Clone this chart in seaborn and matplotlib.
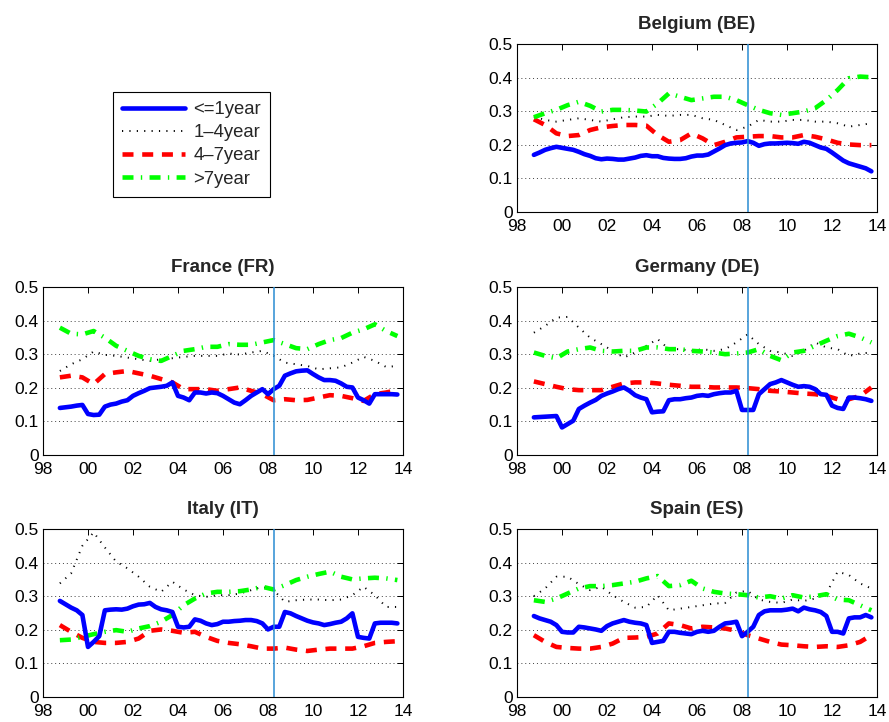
import numpy as np
import pandas as pd
import matplotlib
matplotlib.use("Agg")
import matplotlib.pyplot as plt
import seaborn as sns
from matplotlib.lines import Line2D

sns.set_style("white")
plt.rcParams['font.family'] = ['Liberation Sans', 'DejaVu Sans']

# ---------------- data ----------------
series_names = ["<=1year", "1\u20134year", "4\u20137year", ">7year"]
countries = ["Belgium (BE)", "France (FR)", "Germany (DE)", "Italy (IT)", "Spain (ES)"]
xtick_years = [1998, 2000, 2002, 2004, 2006, 2008, 2010, 2012, 2014]
xtick_labels = ["98", "00", "02", "04", "06", "08", "10", "12", "14"]
ytick_vals = [0, 0.1, 0.2, 0.3, 0.4, 0.5]
ytick_labels = ["0", "0.1", "0.2", "0.3", "0.4", "0.5"]
crisis_date = 2008.25

# quarterly dates (1998Q4 .. 2013Q4) and half-year dates
qtr_dates = 1998.75 + 0.25 * np.arange(61)
half_dates = 1998.75 + 0.5 * np.arange(31)

be_short = [.170,.177,.185,.190,.194,.191,.188,.185,.179,.172,
            .167,.160,.157,.159,.158,.156,.156,.159,.162,.167,
            .169,.166,.166,.161,.159,.158,.158,.160,.165,.168,
            .168,.171,.180,.189,.199,.204,.206,.207,.211,.206,
            .197,.202,.204,.204,.205,.206,.205,.203,.209,.206,
            .199,.192,.188,.177,.165,.153,.145,.140,.135,.130,.121]
be_1_4 = [.284,.274,.269,.274,.279,.274,.269,.276,.282,.284,.284,.289,.286,.289,.289,.279,
          .274,.259,.244,.254,.274,.269,.269,.274,.274,.269,.269,.264,.254,.259,.264]
be_4_7 = [.276,.259,.234,.226,.229,.244,.252,.256,.259,.259,.257,.229,.209,.214,.234,.219,
          .199,.209,.222,.224,.226,.226,.222,.222,.229,.224,.216,.206,.201,.199,.199]
be_long = [.282,.294,.304,.318,.328,.316,.299,.304,.304,.302,.299,.323,.353,.343,.333,.338,
           .343,.343,.333,.318,.304,.294,.289,.294,.299,.309,.333,.363,.398,.403,.401]

fr_short = [.140,.142,.144,.147,.149,.122,.119,.120,.144,.150,
            .153,.159,.163,.176,.184,.191,.199,.201,.203,.206,
            .216,.176,.171,.163,.186,.186,.183,.186,.184,.176,
            .166,.156,.151,.163,.176,.186,.196,.181,.196,.206,
            .236,.243,.249,.251,.252,.241,.231,.223,.223,.221,
            .213,.203,.201,.171,.163,.153,.181,.181,.181,.181,.180]
fr_1_4 = [.250,.270,.285,.308,.298,.295,.290,.285,.280,.285,.288,.292,.295,.295,.295,.302,
          .299,.305,.310,.295,.275,.270,.265,.255,.258,.261,.275,.292,.280,.262,.265]
fr_4_7 = [.231,.236,.231,.211,.241,.246,.250,.243,.236,.226,.216,.196,.196,.196,.191,.196,
          .201,.191,.181,.163,.166,.163,.164,.171,.178,.176,.169,.161,.181,.186,.193]
fr_long = [.379,.361,.359,.369,.349,.325,.310,.295,.285,.280,.295,.310,.315,.322,.322,.330,
           .328,.328,.335,.342,.330,.318,.315,.330,.342,.348,.364,.374,.389,.369,.354]

de_short = [.112,.113,.114,.115,.116,.082,.092,.102,.137,.147,
            .156,.164,.176,.183,.189,.196,.201,.191,.178,.171,
            .166,.127,.129,.130,.163,.166,.166,.169,.171,.176,
            .178,.176,.181,.184,.186,.186,.191,.134,.134,.134,
            .181,.196,.211,.216,.223,.216,.209,.203,.205,.203,
            .196,.181,.179,.147,.140,.137,.171,.171,.169,.166,.161]
de_1_4 = [.364,.384,.409,.411,.379,.349,.330,.310,.290,.305,.325,.345,.315,.315,.310,.315,
          .310,.315,.335,.359,.330,.310,.305,.295,.310,.335,.320,.315,.295,.302,.305]
de_4_7 = [.219,.211,.203,.196,.193,.193,.193,.203,.213,.216,.216,.213,.209,.206,.203,.203,
          .201,.201,.201,.199,.196,.191,.189,.186,.183,.181,.176,.166,.166,.176,.201]
de_long = [.305,.295,.288,.308,.315,.320,.310,.308,.310,.310,.320,.320,.315,.315,.310,.308,
           .305,.300,.302,.305,.315,.295,.282,.305,.310,.325,.340,.354,.361,.350,.335]

it_short = [.286,.276,.266,.258,.244,.149,.164,.181,.258,.260,
            .261,.260,.263,.270,.275,.276,.280,.268,.261,.258,
            .253,.209,.207,.209,.231,.227,.219,.214,.217,.224,
            .224,.226,.227,.229,.229,.226,.219,.201,.209,.209,
            .253,.249,.241,.234,.227,.222,.219,.214,.217,.221,
            .224,.234,.249,.179,.176,.174,.219,.221,.221,.221,.219]
it_1_4 = [.338,.368,.450,.490,.445,.403,.383,.358,.328,.313,.343,.320,.303,.298,.303,.303,
          .308,.318,.328,.318,.283,.288,.290,.290,.288,.290,.303,.328,.303,.268,.268]
it_4_7 = [.214,.194,.176,.164,.161,.161,.164,.174,.197,.201,.197,.191,.194,.179,.167,.161,
          .157,.151,.144,.144,.147,.141,.137,.141,.144,.144,.144,.151,.161,.164,.166]
it_long = [.169,.171,.179,.187,.194,.199,.194,.204,.211,.224,.244,.273,.293,.308,.313,.313,
           .315,.320,.328,.320,.333,.348,.358,.366,.373,.358,.350,.353,.355,.353,.348]

es_short = [.241,.234,.229,.224,.214,.194,.192,.192,.209,.207,
            .204,.201,.197,.211,.219,.224,.229,.224,.221,.219,
            .214,.161,.164,.167,.194,.194,.191,.189,.187,.194,
            .197,.194,.197,.209,.219,.221,.224,.181,.194,.209,
            .244,.255,.258,.258,.258,.260,.263,.255,.266,.261,
            .258,.253,.241,.194,.194,.189,.234,.237,.237,.244,.237]
es_1_4 = [.300,.323,.358,.358,.336,.318,.328,.303,.283,.266,.268,.303,.258,.263,.268,.273,
          .278,.280,.311,.316,.290,.283,.280,.290,.286,.293,.308,.373,.363,.338,.323]
es_4_7 = [.184,.164,.149,.146,.144,.144,.149,.159,.176,.177,.179,.189,.219,.214,.204,.209,
          .207,.204,.197,.184,.174,.164,.156,.154,.151,.149,.151,.149,.154,.164,.184]
es_long = [.288,.283,.293,.308,.323,.330,.330,.333,.338,.343,.353,.360,.330,.333,.346,.323,
           .313,.308,.306,.303,.296,.300,.293,.303,.296,.300,.306,.290,.288,.273,.258]

panel_data = {
    "Belgium (BE)": (be_short, be_1_4, be_4_7, be_long),
    "France (FR)": (fr_short, fr_1_4, fr_4_7, fr_long),
    "Germany (DE)": (de_short, de_1_4, de_4_7, de_long),
    "Italy (IT)": (it_short, it_1_4, it_4_7, it_long),
    "Spain (ES)": (es_short, es_1_4, es_4_7, es_long),
}

# ---------------- styles ----------------
styles = [
    dict(color=(0, 0, 1), lw=3.3, ls='-'),
    dict(color=(0, 0, 0), lw=1.4, ls=(0, (0.6, 3.2))),
    dict(color=(1, 0, 0), lw=3.3, ls=(0, (2.4, 1.9))),
    dict(color=(0, 1, 0), lw=3.3, ls=(0, (2.4, 1.6, 0.3, 1.6))),
]

W, H = 889, 722
fig = plt.figure(figsize=(W / 100, H / 100), dpi=100)

def frac(l, t, r, b):
    return [l / W, 1 - b / H, (r - l) / W, (b - t) / H]

positions = {
    "Belgium (BE)": frac(517, 44, 877, 212),
    "France (FR)": frac(43, 287, 403, 455),
    "Germany (DE)": frac(517, 287, 877, 455),
    "Italy (IT)": frac(43, 529, 403, 697),
    "Spain (ES)": frac(517, 529, 877, 697),
}

for name in countries:
    ax = fig.add_axes(positions[name])
    short, mid, med, long_ = panel_data[name]
    xs = [qtr_dates, half_dates, half_dates, half_dates]
    ys = [short, mid, med, long_]
    order = [1, 2, 3, 0]
    for i in order:
        st = styles[i]
        sns.lineplot(x=xs[i], y=ys[i], ax=ax, color=st['color'], linewidth=st['lw'],
                     linestyle=st['ls'], legend=False, zorder=3 if i == 0 else 2,
                     dash_capstyle='butt')
    ax.axvline(crisis_date, color='#2a8cd2', lw=1.1, zorder=4)
    ax.set_xlim(1998, 2014)
    ax.set_ylim(0, 0.5)
    ax.set_xticks(xtick_years)
    ax.set_xticklabels(xtick_labels)
    ax.set_yticks(ytick_vals)
    ax.set_yticklabels(ytick_labels)
    ax.yaxis.grid(True, color='0.25', linestyle=(0, (1, 3)), lw=0.7)
    ax.xaxis.grid(False)
    ax.set_axisbelow(True)
    ax.tick_params(direction='in', length=4, width=0.7, top=True, right=True,
                   labelsize=12.5, colors='black')
    ax.tick_params(axis='x', pad=5)
    ax.tick_params(axis='y', pad=3)
    for sp in ax.spines.values():
        sp.set_visible(True)
        sp.set_color('black')
        sp.set_linewidth(0.8)
    ax.set_xlabel("")
    ax.set_ylabel("")
    ax.set_title(name, fontsize=13.5, fontweight='bold', pad=11)

handles = [Line2D([0], [0], color=st['color'], lw=st['lw'], linestyle=st['ls'],
                  dash_capstyle='butt') for st in styles]
leg = fig.legend(handles, series_names, loc='upper left',
                 bbox_to_anchor=(113 / W, 1 - 92 / H), fontsize=13.3,
                 frameon=True, fancybox=False, edgecolor='black', framealpha=1,
                 handlelength=3.4, labelspacing=0.33, borderpad=0.5, handletextpad=0.45,
                 borderaxespad=0)
leg.get_frame().set_linewidth(0.8)

fig.savefig("out.png", dpi=100)
